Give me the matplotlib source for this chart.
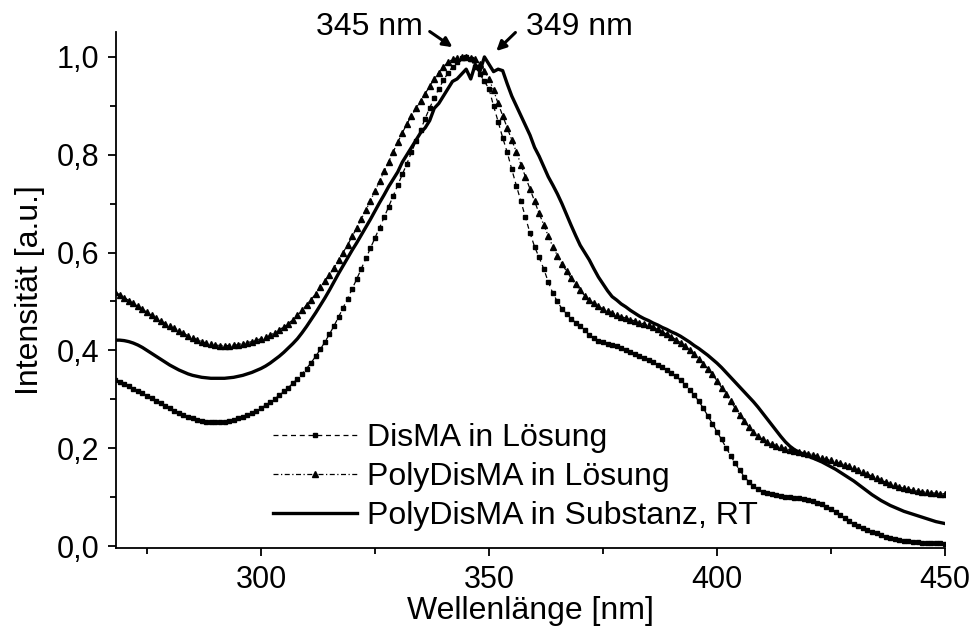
import matplotlib
matplotlib.use("Agg")
from matplotlib import pyplot as plt
from matplotlib.ticker import MultipleLocator, FuncFormatter

plt.rcParams["font.family"] = ["Liberation Sans", "DejaVu Sans"]
plt.rcParams["font.size"] = 22

# wavelength grid, 1 nm steps
wavelength = list(range(268, 451))

disma_solution = [
    .340, .336, .332, .327, .322, .317, .312, .307, .302, .297,
    .292, .287, .282, .277, .272, .268, .264, .261, .258, .256,
    .254, .253, .253, .253, .254, .256, .258, .261, .264, .268,
    .272, .277, .282, .288, .294, .301, .308, .316, .324, .333,
    .342, .352, .363, .375, .388, .402, .417, .433, .450, .468,
    .487, .506, .526, .546, .567, .588, .609, .630, .651, .672,
    .694, .716, .738, .760, .782, .805, .828, .851, .874, .896,
    .916, .935, .952, .967, .980, .990, .997, 1.000, .995, .980,
    .965, .950, .935, .900, .868, .835, .805, .770, .737, .705,
    .672, .640, .612, .590, .567, .540, .517, .500, .485, .475,
    .465, .457, .449, .441, .432, .425, .420, .417, .414, .411,
    .408, .405, .401, .397, .393, .389, .385, .380, .376, .371,
    .366, .360, .354, .347, .339, .330, .320, .309, .296, .282,
    .266, .250, .234, .218, .201, .185, .169, .155, .142, .131,
    .122, .116, .111, .108, .106, .104, .102, .101, .100, .099,
    .098, .097, .095, .092, .089, .085, .080, .075, .069, .063,
    .057, .051, .046, .041, .037, .033, .029, .026, .022, .019,
    .017, .015, .013, .011, .010, .009, .008, .007, .007, .006,
    .006, .006, .005,
]

polydisma_solution = [
    .519, .514, .508, .502, .496, .490, .484, .478, .472, .466,
    .460, .455, .450, .445, .440, .435, .430, .426, .422, .418,
    .415, .413, .411, .410, .410, .410, .411, .412, .414, .416,
    .418, .421, .424, .427, .431, .436, .442, .448, .455, .463,
    .472, .482, .493, .504, .516, .529, .542, .555, .569, .584,
    .600, .616, .633, .651, .669, .687, .706, .726, .746, .766,
    .786, .806, .826, .845, .863, .880, .895, .910, .925, .940,
    .955, .968, .980, .989, .995, .998, 1.000, 1.000, .998, .995,
    .985, .972, .955, .932, .905, .880, .855, .830, .806, .780,
    .755, .730, .705, .680, .657, .634, .612, .594, .577, .562,
    .548, .535, .523, .512, .503, .496, .490, .485, .481, .477,
    .473, .469, .466, .463, .460, .457, .454, .451, .447, .443,
    .438, .433, .428, .422, .416, .409, .401, .392, .383, .373,
    .363, .351, .338, .324, .310, .296, .282, .268, .255, .243,
    .233, .225, .218, .213, .209, .205, .202, .199, .197, .195,
    .193, .191, .189, .187, .184, .181, .178, .175, .172, .169,
    .166, .163, .159, .155, .151, .147, .143, .139, .135, .131,
    .127, .124, .121, .118, .116, .114, .113, .111, .110, .109,
    .108, .107, .107,
]

polydisma_bulk = [
    .421, .421, .420, .418, .415, .411, .406, .400, .394, .388,
    .382, .376, .370, .365, .360, .356, .352, .349, .347, .345,
    .344, .343, .343, .343, .343, .344, .345, .347, .349, .352,
    .355, .359, .363, .368, .374, .381, .388, .396, .405, .414,
    .424, .436, .449, .463, .477, .492, .507, .523, .540, .557,
    .573, .589, .605, .620, .636, .652, .668, .685, .702, .718,
    .735, .750, .765, .785, .800, .815, .830, .845, .855, .870,
    .895, .905, .920, .935, .950, .955, .965, .975, .955, .985,
    .970, 1.000, .985, .970, .975, .972, .945, .920, .900, .880,
    .860, .840, .815, .797, .776, .755, .738, .720, .700, .678,
    .656, .635, .615, .600, .585, .567, .550, .536, .522, .510,
    .503, .495, .489, .482, .476, .470, .465, .461, .456, .452,
    .447, .443, .438, .434, .429, .423, .417, .410, .404, .397,
    .390, .382, .374, .365, .355, .345, .335, .325, .315, .305,
    .295, .284, .272, .260, .248, .236, .224, .213, .204, .197,
    .192, .188, .184, .180, .176, .172, .167, .162, .157, .151,
    .145, .139, .133, .126, .119, .112, .105, .099, .093, .088,
    .083, .079, .075, .071, .068, .065, .062, .059, .056, .053,
    .050, .048, .046,
]

labels = ["DisMA in Lösung", "PolyDisMA in Lösung", "PolyDisMA in Substanz, RT"]


def comma(v, pos):
    return f"{v:.1f}".replace(".", ",")


fig = plt.figure(figsize=(9.73, 6.37), dpi=100)
ax = fig.add_axes([0.1192, 0.1397, 0.852, 0.8093])

ax.plot(wavelength, disma_solution, color="black", lw=0.9, ls=(0, (4, 3)),
        marker="s", ms=3.3, mec="black", mfc="black", label=labels[0])
ax.plot(wavelength, polydisma_solution, color="black", lw=0.9,
        ls=(0, (4, 2, 1, 2)), marker="^", ms=4.2, mec="black", mfc="black",
        label=labels[1])
ax.plot(wavelength, polydisma_bulk, color="black", lw=2.4, label=labels[2])

ax.set_xlim(268.2, 450)
ax.set_ylim(-0.004, 1.05)
ax.xaxis.set_major_locator(MultipleLocator(50))
ax.xaxis.set_minor_locator(MultipleLocator(25))
ax.yaxis.set_major_locator(MultipleLocator(0.2))
ax.yaxis.set_minor_locator(MultipleLocator(0.1))
ax.yaxis.set_major_formatter(FuncFormatter(comma))

for side in ["top", "right"]:
    ax.spines[side].set_visible(False)
for side in ["left", "bottom"]:
    ax.spines[side].set_linewidth(1.3)
ax.tick_params(which="major", direction="out", length=6, width=1.3,
               labelsize=22, pad=6)
ax.tick_params(which="minor", direction="out", length=4, width=1.3)

ax.set_xlabel("Wellenlänge [nm]", fontsize=23, labelpad=1)
ax.set_ylabel("Intensität [a.u.]", fontsize=23, labelpad=8)

# peak markers
arrow = dict(arrowstyle="-|>", lw=2.2, color="black", mutation_scale=14,
             shrinkA=0, shrinkB=0)
ax.annotate("", xy=(342.0, 1.020), xytext=(337.0, 1.052),
            arrowprops=arrow, annotation_clip=False)
ax.annotate("", xy=(351.6, 1.012), xytext=(355.8, 1.050),
            arrowprops=arrow, annotation_clip=False)
ax.text(335.4, 1.061, "345 nm", ha="right", va="center", fontsize=23, clip_on=False)
ax.text(358.2, 1.061, "349 nm", ha="left", va="center", fontsize=23, clip_on=False)

ax.legend(loc="upper left", bbox_to_anchor=(0.189, 0.242), frameon=False,
          borderpad=0, borderaxespad=0, handlelength=2.65, handletextpad=0.3,
          labelspacing=0.28, numpoints=1, fontsize=23)

fig.savefig("out.png", dpi=100)
